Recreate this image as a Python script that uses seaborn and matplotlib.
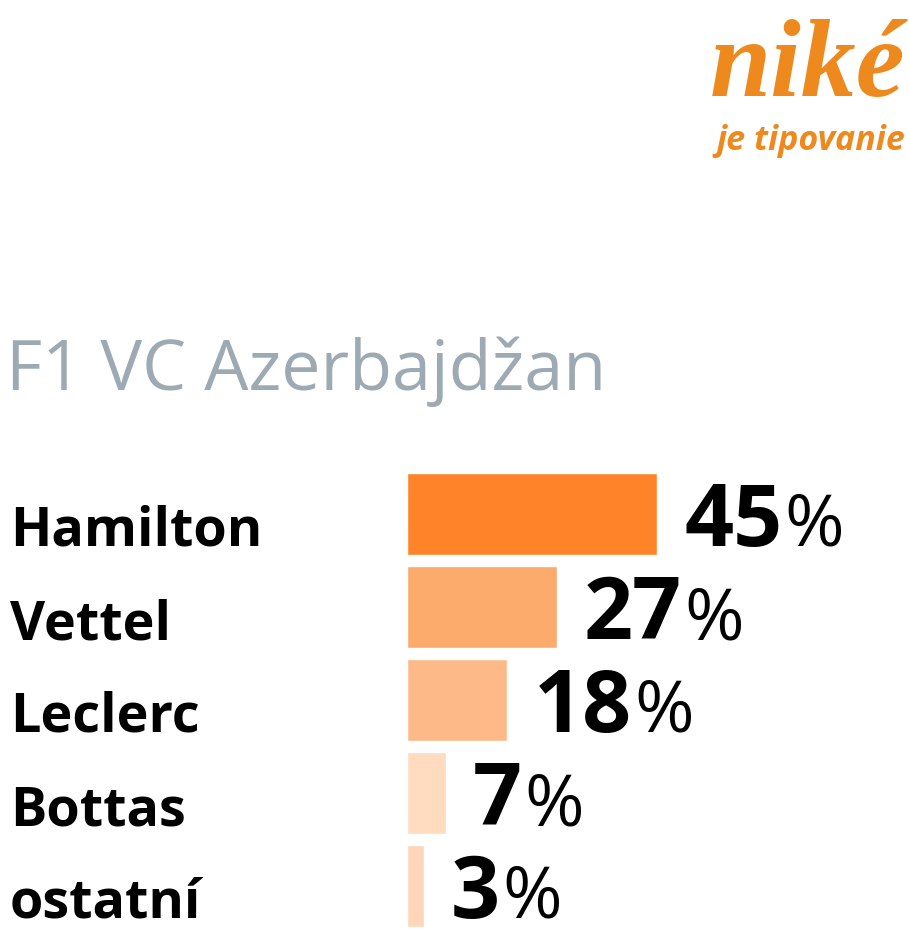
"""
F1 VC Azerbajdzan - tipy (nike) ako horizontalny stlpcovy graf
"""

import matplotlib
matplotlib.use("Agg")
import matplotlib.pyplot as plt
import matplotlib.transforms as mtransforms
import pandas as pd
import seaborn as sns

DRIVERS = ["Hamilton", "Vettel", "Leclerc", "Bottas", "ostatní"]
SHARES = [45, 27, 18, 7, 3]
BAR_COLORS = ["#FF8429", "#FDAA6D", "#FDBA88", "#FFDBC0", "#FDD5B8"]
TITLE = "F1 VC Azerbajdžan"
LOGO = "niké"
LOGO_SUB = "je tipovanie"

W, H = 909, 940
PX = 72 / 100  # points per pixel at dpi 100


def run() -> None:
    sns.set_style("white")
    plt.rcParams["font.family"] = ["Open Sans", "DejaVu Sans"]

    fig = plt.figure(figsize=(W / 100, H / 100), dpi=100)
    ax = fig.add_axes([407 / W, 1 - 932.5 / H, 500 / W, 465 / H])

    df = pd.DataFrame({"driver": DRIVERS, "share": SHARES})
    sns.barplot(
        data=df, x="share", y="driver", hue="driver", palette=BAR_COLORS,
        orient="h", width=0.88, saturation=1, legend=False, ax=ax,
    )
    ax.set_xlim(0, 500 / (250 / 45))
    ax.set_ylim(len(DRIVERS) - 0.5, -0.5)
    ax.axis("off")

    # driver names on the left, aligned to the figure edge
    name_tr = mtransforms.blended_transform_factory(fig.transFigure, ax.transData)
    for i, name in enumerate(DRIVERS):
        ax.annotate(
            name, xy=(10 / W, i), xycoords=name_tr, xytext=(0, -32 * PX),
            textcoords="offset points", va="baseline", ha="left",
            fontsize=54 * PX, fontweight="bold", color="black",
        )

    # numbers right of the bars
    num_texts = []
    for i, val in enumerate(SHARES):
        t = ax.annotate(
            f"{val}", xy=(val, i), xytext=(27 * PX, -32 * PX),
            textcoords="offset points", va="baseline", ha="left",
            fontsize=86 * PX, fontweight="bold", color="black",
        )
        num_texts.append(t)

    fig.canvas.draw()
    renderer = fig.canvas.get_renderer()
    inv = ax.transData.inverted()
    for i, t in enumerate(num_texts):
        bb = t.get_window_extent(renderer)
        x_end = inv.transform((bb.x1, 0))[0]
        ax.annotate(
            "%", xy=(x_end, i), xytext=(2 * PX, -32 * PX),
            textcoords="offset points", va="baseline", ha="left",
            fontsize=72 * PX, fontweight="normal", color="black",
        )

    fig.text(6 / W, 1 - 390 / H, TITLE, ha="left", va="baseline",
             fontsize=70 * PX, color="#9DAAB4")

    fig.text(905 / W, 1 - 96 / H, LOGO, ha="right", va="baseline",
             family=["Liberation Serif", "DejaVu Serif"], fontweight="bold",
             style="italic", fontsize=110 * PX, color="#EE8A1D")
    fig.text(905 / W, 1 - 150 / H, LOGO_SUB, ha="right", va="baseline",
             fontweight="bold", style="italic", fontsize=34 * PX,
             color="#EE8A1D")

    fig.savefig("out.png", dpi=100)


if __name__ == "__main__":
    run()
